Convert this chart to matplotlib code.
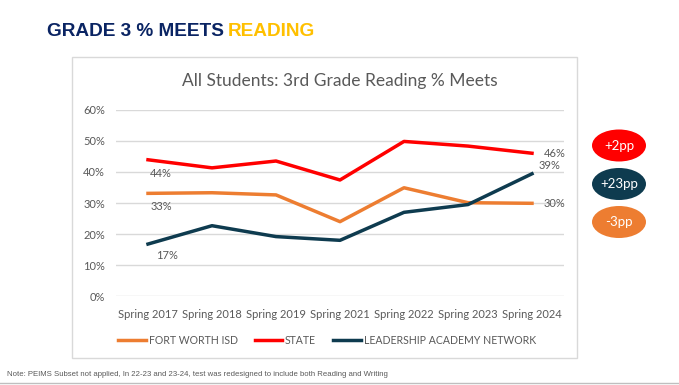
import matplotlib.pyplot as plt
from matplotlib.patches import Ellipse, Rectangle
from matplotlib.lines import Line2D
from matplotlib.ticker import FuncFormatter

# data
years = ['Spring 2017', 'Spring 2018', 'Spring 2019', 'Spring 2021',
         'Spring 2022', 'Spring 2023', 'Spring 2024']
fwisd = [33.1, 33.3, 32.6, 24.0, 34.9, 30.1, 29.9]
state = [43.9, 41.3, 43.5, 37.4, 49.8, 48.3, 46.0]
lan = [16.8, 22.7, 19.2, 18.0, 27.0, 29.5, 39.4]
badges = ['+2pp', '+23pp', '-3pp']

ORANGE = '#ED7D31'
RED = '#FF0000'
NAVY = '#0E3B4F'
GRAY = '#595959'

W, H = 679, 385
fig = plt.figure(figsize=(W / 100, H / 100), dpi=100)
plt.rcParams['font.family'] = ['Lato', 'DejaVu Sans']

def fx(px):
    return px / W

def fy(py):
    return 1 - py / H

# slide title: two colours, second part placed after the first one
renderer = fig.canvas.get_renderer()
tfont = dict(fontweight='bold', va='center', ha='left',
             family=['Liberation Sans', 'DejaVu Sans'])
fs = 20
for _ in range(3):
    t1 = fig.text(fx(47), fy(31), 'GRADE 3 % MEETS', fontsize=fs, color='#0A2463', **tfont)
    t2 = fig.text(0, fy(31), 'READING', fontsize=fs, color='#FFC000', **tfont)
    w1 = t1.get_window_extent(renderer).width
    w2 = t2.get_window_extent(renderer).width
    gap = fs * 0.3
    total = w1 + gap + w2
    t1.remove()
    t2.remove()
    fs = fs * 268 / total
t1 = fig.text(fx(47), fy(31), 'GRADE 3 % MEETS', fontsize=fs, color='#0A2463', **tfont)
w1 = t1.get_window_extent(renderer).width
fig.text(fx(47 + w1 + fs * 0.3), fy(31), 'READING', fontsize=fs, color='#FFC000', **tfont)

# chart frame
fig.patches.append(Rectangle((fx(72), fy(358)), fx(577) - fx(72), fy(57) - fy(358),
                             transform=fig.transFigure, fill=False,
                             edgecolor='#D9D9D9', linewidth=1))

ax = fig.add_axes([fx(116), fy(296.3), fx(564) - fx(116), fy(109.7) - fy(296.3)])
x = list(range(len(years)))
ax.plot(x, fwisd, color=ORANGE, linewidth=2.5)
ax.plot(x, state, color=RED, linewidth=2.5)
ax.plot(x, lan, color=NAVY, linewidth=2.5)

ax.set_xlim(-0.5, 6.5)
ax.set_ylim(0, 60)
ax.set_yticks(range(0, 61, 10))
ax.yaxis.set_major_formatter(FuncFormatter(lambda v, p: f'{v:.0f}%'))
ax.set_xticks(x)
ax.set_xticklabels(years)
ax.tick_params(length=0, colors=GRAY, labelsize=8)
ax.tick_params(axis='x', pad=9)
ax.tick_params(axis='y', pad=8)
ax.grid(axis='y', color='#D9D9D9', linewidth=1)
ax.set_axisbelow(True)
for s in ax.spines.values():
    s.set_visible(False)

# data labels
lab = dict(color=GRAY, fontsize=8, textcoords='offset points', va='center')
ax.annotate(f'{state[0]:.0f}%', (0, state[0]), xytext=(9, -9.6), ha='center', **lab)
ax.annotate(f'{fwisd[0]:.0f}%', (0, fwisd[0]), xytext=(9.4, -9.6), ha='center', **lab)
ax.annotate(f'{lan[0]:.0f}%', (0, lan[0]), xytext=(14, -8.6), ha='center', **lab)
ax.annotate(f'{state[6]:.0f}%', (6, state[6]), xytext=(8.6, 0), ha='left', **lab)
ax.annotate(f'{lan[6]:.0f}%', (6, lan[6]), xytext=(5, 6.3), ha='left', **lab)
ax.annotate(f'{fwisd[6]:.0f}%', (6, fwisd[6]), xytext=(8.6, 0), ha='left', **lab)

ax.set_title('All Students: 3rd Grade Reading % Meets', color=GRAY, fontsize=12.5, pad=17)

handles = [Line2D([], [], color=c, linewidth=2.5) for c in (ORANGE, RED, NAVY)]
fig.legend(handles, ['FORT WORTH ISD', 'STATE', 'LEADERSHIP ACADEMY NETWORK'],
           loc='center', bbox_to_anchor=(fx(327), fy(340)), ncol=3, frameon=False,
           fontsize=7.6, labelcolor=GRAY, handlelength=2.6, handletextpad=0.3,
           columnspacing=1.6)

# change badges
for (cy, col), txt in zip([(145.5, RED), (184, NAVY), (222, ORANGE)], badges):
    fig.patches.append(Ellipse((fx(619), fy(cy)), fx(54), 32 / H,
                               transform=fig.transFigure, facecolor=col, edgecolor='none'))
    fig.text(fx(619), fy(cy), txt, color='white', fontsize=9.5, ha='center', va='center')

# footnote
fig.text(fx(7), fy(374), 'Note: PEIMS Subset not applied, In 22-23 and 23-24, test was '
         'redesigned to include both Reading and Writing', fontsize=5.6, color=GRAY,
         ha='left', va='center', family=['Liberation Sans', 'DejaVu Sans'])
fig.add_artist(Line2D([0, 1], [fy(383), fy(383)], transform=fig.transFigure,
                      color='#BFBFBF', linewidth=1))

fig.savefig('out.png', dpi=100)
